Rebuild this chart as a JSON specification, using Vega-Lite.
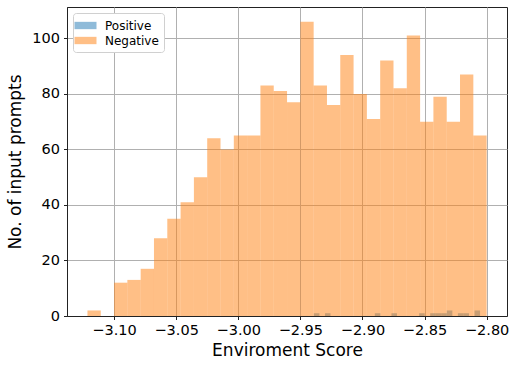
{
  "$schema": "https://vega.github.io/schema/vega-lite/v6.json",
  "autosize": "none",
  "width": 440,
  "height": 309,
  "padding": {"left": 67, "top": 7, "right": 12, "bottom": 53},
  "config": {
    "font": "DejaVu Sans",
    "view": {"stroke": "#222222", "strokeWidth": 1},
    "axis": {
      "zindex": 1,
      "domainColor": "#222222",
      "tickColor": "#222222",
      "tickSize": 3.5,
      "tickWidth": 1,
      "gridColor": "#b0b0b0",
      "gridWidth": 1,
      "gridOpacity": 1,
      "labelFont": "DejaVu Sans",
      "labelFontSize": 14.5,
      "labelColor": "black",
      "titleFont": "DejaVu Sans",
      "titleFontSize": 17,
      "titleFontWeight": "normal",
      "titleColor": "black"
    }
  },
  "data": {
    "values": [
      {"start": -2.93910, "end": -2.93464, "count": 1, "series": "Positive"},
      {"start": -2.93018, "end": -2.92572, "count": 1, "series": "Positive"},
      {"start": -2.89004, "end": -2.88558, "count": 1, "series": "Positive"},
      {"start": -2.87666, "end": -2.87220, "count": 1, "series": "Positive"},
      {"start": -2.85436, "end": -2.84990, "count": 1, "series": "Positive"},
      {"start": -2.84544, "end": -2.84098, "count": 1, "series": "Positive"},
      {"start": -2.84098, "end": -2.83652, "count": 1, "series": "Positive"},
      {"start": -2.83652, "end": -2.83206, "count": 1, "series": "Positive"},
      {"start": -2.83206, "end": -2.82760, "count": 2, "series": "Positive"},
      {"start": -2.82314, "end": -2.81868, "count": 1, "series": "Positive"},
      {"start": -2.81868, "end": -2.81422, "count": 1, "series": "Positive"},
      {"start": -2.80976, "end": -2.80530, "count": 2, "series": "Positive"},
      {"start": -3.12143, "end": -3.11071, "count": 2, "series": "Negative"},
      {"start": -3.11071, "end": -3.10000, "count": 0, "series": "Negative"},
      {"start": -3.10000, "end": -3.08929, "count": 12, "series": "Negative"},
      {"start": -3.08929, "end": -3.07857, "count": 13, "series": "Negative"},
      {"start": -3.07857, "end": -3.06786, "count": 17, "series": "Negative"},
      {"start": -3.06786, "end": -3.05714, "count": 28, "series": "Negative"},
      {"start": -3.05714, "end": -3.04643, "count": 35, "series": "Negative"},
      {"start": -3.04643, "end": -3.03571, "count": 41, "series": "Negative"},
      {"start": -3.03571, "end": -3.02500, "count": 50, "series": "Negative"},
      {"start": -3.02500, "end": -3.01429, "count": 64, "series": "Negative"},
      {"start": -3.01429, "end": -3.00357, "count": 60, "series": "Negative"},
      {"start": -3.00357, "end": -2.99286, "count": 65, "series": "Negative"},
      {"start": -2.99286, "end": -2.98214, "count": 65, "series": "Negative"},
      {"start": -2.98214, "end": -2.97143, "count": 83, "series": "Negative"},
      {"start": -2.97143, "end": -2.96071, "count": 81, "series": "Negative"},
      {"start": -2.96071, "end": -2.95000, "count": 77, "series": "Negative"},
      {"start": -2.95000, "end": -2.93929, "count": 106, "series": "Negative"},
      {"start": -2.93929, "end": -2.92857, "count": 83, "series": "Negative"},
      {"start": -2.92857, "end": -2.91786, "count": 76, "series": "Negative"},
      {"start": -2.91786, "end": -2.90714, "count": 94, "series": "Negative"},
      {"start": -2.90714, "end": -2.89643, "count": 80, "series": "Negative"},
      {"start": -2.89643, "end": -2.88571, "count": 71, "series": "Negative"},
      {"start": -2.88571, "end": -2.87500, "count": 92, "series": "Negative"},
      {"start": -2.87500, "end": -2.86429, "count": 82, "series": "Negative"},
      {"start": -2.86429, "end": -2.85357, "count": 101, "series": "Negative"},
      {"start": -2.85357, "end": -2.84286, "count": 70, "series": "Negative"},
      {"start": -2.84286, "end": -2.83214, "count": 79, "series": "Negative"},
      {"start": -2.83214, "end": -2.82143, "count": 70, "series": "Negative"},
      {"start": -2.82143, "end": -2.81071, "count": 87, "series": "Negative"},
      {"start": -2.81071, "end": -2.80000, "count": 65, "series": "Negative"}
    ]
  },
  "mark": {"type": "bar", "opacity": 0.5, "binSpacing": 0},
  "encoding": {
    "x": {
      "field": "start",
      "type": "quantitative",
      "scale": {"domain": [-3.1379, -2.7836], "nice": false, "zero": false},
      "axis": {
        "title": "Enviroment Score",
        "values": [-3.1, -3.05, -3.0, -2.95, -2.9, -2.85, -2.8],
        "format": ".2f",
        "labelPadding": 4,
        "titlePadding": 5
      }
    },
    "x2": {"field": "end"},
    "y": {
      "field": "count",
      "type": "quantitative",
      "stack": null,
      "scale": {"domain": [0, 111.3], "nice": false},
      "axis": {
        "title": "No. of input prompts",
        "values": [0, 20, 40, 60, 80, 100],
        "labelPadding": 4,
        "titlePadding": 7
      }
    },
    "y2": {"datum": 0},
    "color": {
      "field": "series",
      "type": "nominal",
      "scale": {"domain": ["Positive", "Negative"], "range": ["#1f77b4", "#ff7f0e"]},
      "legend": {
        "title": null,
        "orient": "none",
        "legendX": 6,
        "legendY": 6,
        "symbolType": "M-1.5,-0.5H1.5V0.5H-1.5Z",
        "symbolSize": 215,
        "symbolOpacity": 0.5,
        "symbolStrokeWidth": 0,
        "labelFont": "DejaVu Sans",
        "labelFontSize": 12,
        "labelColor": "black",
        "labelOffset": 12,
        "padding": 5,
        "rowPadding": 1,
        "strokeColor": "#d0d0d0",
        "fillColor": "white",
        "cornerRadius": 3
      }
    }
  }
}
